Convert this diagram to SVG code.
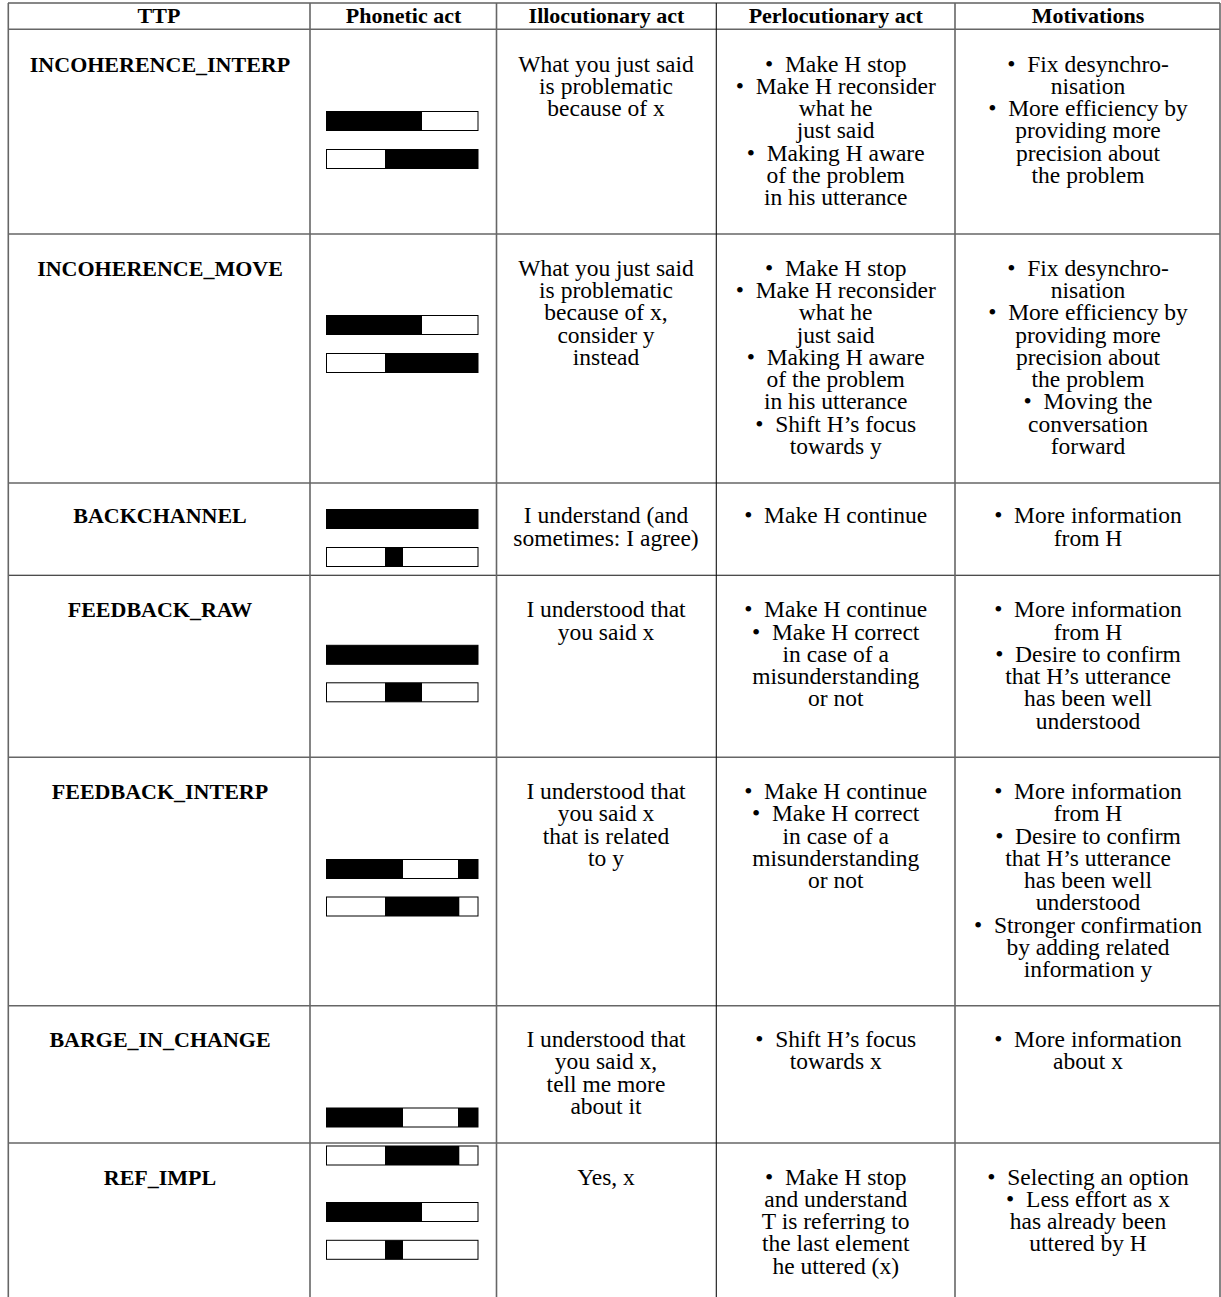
<svg xmlns="http://www.w3.org/2000/svg" width="1221" height="1297" viewBox="0 0 1221 1297">
<style>
.t{font-family:"Liberation Serif","Times New Roman",serif;font-size:23.5px;fill:#000;text-anchor:middle}
.b{font-family:"Liberation Serif","Times New Roman",serif;font-size:22px;font-weight:bold;fill:#000;text-anchor:middle}
.g{stroke:#666;stroke-width:1.6;fill:none}
.k{stroke:#111;stroke-width:1.1;fill:none}
.bar{fill:#fff;stroke:#000;stroke-width:1}
.on{fill:#000}
</style>
<rect x="0" y="0" width="1221" height="1297" fill="#fff"/>
<g id="grid">
<line class="k" x1="8" y1="3" x2="1220" y2="3"/>
<line class="g" x1="8" y1="29.3" x2="1220" y2="29.3"/>
<line class="g" x1="8" y1="234" x2="1220" y2="234"/>
<line class="g" x1="8" y1="483" x2="1220" y2="483"/>
<line class="k" x1="8" y1="575.3" x2="1220" y2="575.3"/>
<line class="g" x1="8" y1="757.3" x2="1220" y2="757.3"/>
<line class="g" x1="8" y1="1005.8" x2="1220" y2="1005.8"/>
<line class="g" x1="8" y1="1143" x2="1220" y2="1143"/>
<line class="g" x1="8.3" y1="3" x2="8.3" y2="1297"/>
<line class="g" x1="310" y1="3" x2="310" y2="1297"/>
<line class="g" x1="496.5" y1="3" x2="496.5" y2="1297"/>
<line class="k" x1="716.3" y1="3" x2="716.3" y2="1297"/>
<line class="g" x1="955" y1="3" x2="955" y2="1297"/>
<line class="g" x1="1220" y1="3" x2="1220" y2="1297"/>
</g>
<g id="header">
<text class="b" x="159" y="22.7">TTP</text>
<text class="b" x="403.5" y="22.7">Phonetic act</text>
<text class="b" x="606.5" y="22.7">Illocutionary act</text>
<text class="b" x="835.7" y="22.7">Perlocutionary act</text>
<text class="b" x="1088" y="22.7">Motivations</text>
</g>
<g id="row-incoherence-interp">
<text class="b" x="160" y="71.7">INCOHERENCE_INTERP</text>
<rect class="bar" x="326.5" y="111.5" width="151.5" height="19"/><rect class="on" x="326.5" y="111.5" width="95.5" height="19"/>
<rect class="bar" x="326.5" y="149.5" width="151.5" height="19"/><rect class="on" x="385" y="149.5" width="93" height="19"/>
<text class="t" x="606" y="71.7"><tspan x="606">What you just said</tspan><tspan x="606" dy="22.25">is problematic</tspan><tspan x="606" dy="22.25">because of x</tspan></text>
<text class="t" x="835.7" y="71.7"><tspan x="835.7">•&#8194;Make H stop</tspan><tspan x="835.7" dy="22.25">•&#8194;Make H reconsider</tspan><tspan x="835.7" dy="22.25">what he</tspan><tspan x="835.7" dy="22.25">just said</tspan><tspan x="835.7" dy="22.25">•&#8194;Making H aware</tspan><tspan x="835.7" dy="22.25">of the problem</tspan><tspan x="835.7" dy="22.25">in his utterance</tspan></text>
<text class="t" x="1088" y="71.7"><tspan x="1088">•&#8194;Fix desynchro-</tspan><tspan x="1088" dy="22.25">nisation</tspan><tspan x="1088" dy="22.25">•&#8194;More efficiency by</tspan><tspan x="1088" dy="22.25">providing more</tspan><tspan x="1088" dy="22.25">precision about</tspan><tspan x="1088" dy="22.25">the problem</tspan></text>
</g>
<g id="row-incoherence-move">
<text class="b" x="160" y="275.8">INCOHERENCE_MOVE</text>
<rect class="bar" x="326.5" y="315.5" width="151.5" height="19"/><rect class="on" x="326.5" y="315.5" width="95.5" height="19"/>
<rect class="bar" x="326.5" y="353.5" width="151.5" height="19"/><rect class="on" x="385" y="353.5" width="93" height="19"/>
<text class="t" x="606" y="275.8"><tspan x="606">What you just said</tspan><tspan x="606" dy="22.25">is problematic</tspan><tspan x="606" dy="22.25">because of x,</tspan><tspan x="606" dy="22.25">consider y</tspan><tspan x="606" dy="22.25">instead</tspan></text>
<text class="t" x="835.7" y="275.8"><tspan x="835.7">•&#8194;Make H stop</tspan><tspan x="835.7" dy="22.25">•&#8194;Make H reconsider</tspan><tspan x="835.7" dy="22.25">what he</tspan><tspan x="835.7" dy="22.25">just said</tspan><tspan x="835.7" dy="22.25">•&#8194;Making H aware</tspan><tspan x="835.7" dy="22.25">of the problem</tspan><tspan x="835.7" dy="22.25">in his utterance</tspan><tspan x="835.7" dy="22.25">•&#8194;Shift H’s focus</tspan><tspan x="835.7" dy="22.25">towards y</tspan></text>
<text class="t" x="1088" y="275.8"><tspan x="1088">•&#8194;Fix desynchro-</tspan><tspan x="1088" dy="22.25">nisation</tspan><tspan x="1088" dy="22.25">•&#8194;More efficiency by</tspan><tspan x="1088" dy="22.25">providing more</tspan><tspan x="1088" dy="22.25">precision about</tspan><tspan x="1088" dy="22.25">the problem</tspan><tspan x="1088" dy="22.25">•&#8194;Moving the</tspan><tspan x="1088" dy="22.25">conversation</tspan><tspan x="1088" dy="22.25">forward</tspan></text>
</g>
<g id="row-backchannel">
<text class="b" x="160" y="523.3">BACKCHANNEL</text>
<rect class="bar" x="326.5" y="509.5" width="151.5" height="19"/><rect class="on" x="326.5" y="509.5" width="151.5" height="19"/>
<rect class="bar" x="326.5" y="547.5" width="151.5" height="19"/><rect class="on" x="385" y="547.5" width="18" height="19"/>
<text class="t" x="606" y="523.3"><tspan x="606">I understand (and</tspan><tspan x="606" dy="22.25">sometimes: I agree)</tspan></text>
<text class="t" x="835.7" y="523.3">•&#8194;Make H continue</text>
<text class="t" x="1088" y="523.3"><tspan x="1088">•&#8194;More information</tspan><tspan x="1088" dy="22.25">from H</tspan></text>
</g>
<g id="row-feedback-raw">
<text class="b" x="160" y="617.3">FEEDBACK_RAW</text>
<rect class="bar" x="326.5" y="645.3" width="151.5" height="19"/><rect class="on" x="326.5" y="645.3" width="151.5" height="19"/>
<rect class="bar" x="326.5" y="682.8" width="151.5" height="19"/><rect class="on" x="385" y="682.8" width="37" height="19"/>
<text class="t" x="606" y="617.3"><tspan x="606">I understood that</tspan><tspan x="606" dy="22.25">you said x</tspan></text>
<text class="t" x="835.7" y="617.3"><tspan x="835.7">•&#8194;Make H continue</tspan><tspan x="835.7" dy="22.25">•&#8194;Make H correct</tspan><tspan x="835.7" dy="22.25">in case of a</tspan><tspan x="835.7" dy="22.25">misunderstanding</tspan><tspan x="835.7" dy="22.25">or not</tspan></text>
<text class="t" x="1088" y="617.3"><tspan x="1088">•&#8194;More information</tspan><tspan x="1088" dy="22.25">from H</tspan><tspan x="1088" dy="22.25">•&#8194;Desire to confirm</tspan><tspan x="1088" dy="22.25">that H’s utterance</tspan><tspan x="1088" dy="22.25">has been well</tspan><tspan x="1088" dy="22.25">understood</tspan></text>
</g>
<g id="row-feedback-interp">
<text class="b" x="160" y="799">FEEDBACK_INTERP</text>
<rect class="bar" x="326.5" y="859.5" width="151.5" height="19"/><rect class="on" x="326.5" y="859.5" width="76.5" height="19"/><rect class="on" x="458" y="859.5" width="20" height="19"/>
<rect class="bar" x="326.5" y="897" width="151.5" height="19"/><rect class="on" x="385" y="897" width="74.3" height="19"/>
<text class="t" x="606" y="799"><tspan x="606">I understood that</tspan><tspan x="606" dy="22.25">you said x</tspan><tspan x="606" dy="22.25">that is related</tspan><tspan x="606" dy="22.25">to y</tspan></text>
<text class="t" x="835.7" y="799"><tspan x="835.7">•&#8194;Make H continue</tspan><tspan x="835.7" dy="22.25">•&#8194;Make H correct</tspan><tspan x="835.7" dy="22.25">in case of a</tspan><tspan x="835.7" dy="22.25">misunderstanding</tspan><tspan x="835.7" dy="22.25">or not</tspan></text>
<text class="t" x="1088" y="799"><tspan x="1088">•&#8194;More information</tspan><tspan x="1088" dy="22.25">from H</tspan><tspan x="1088" dy="22.25">•&#8194;Desire to confirm</tspan><tspan x="1088" dy="22.25">that H’s utterance</tspan><tspan x="1088" dy="22.25">has been well</tspan><tspan x="1088" dy="22.25">understood</tspan><tspan x="1088" dy="22.25">•&#8194;Stronger confirmation</tspan><tspan x="1088" dy="22.25">by adding related</tspan><tspan x="1088" dy="22.25">information y</tspan></text>
</g>
<g id="row-barge-in-change">
<text class="b" x="160" y="1047">BARGE_IN_CHANGE</text>
<rect class="bar" x="326.5" y="1108" width="151.5" height="19"/><rect class="on" x="326.5" y="1108" width="76.5" height="19"/><rect class="on" x="458" y="1108" width="20" height="19"/>
<text class="t" x="606" y="1047"><tspan x="606">I understood that</tspan><tspan x="606" dy="22.25">you said x,</tspan><tspan x="606" dy="22.25">tell me more</tspan><tspan x="606" dy="22.25">about it</tspan></text>
<text class="t" x="835.7" y="1047"><tspan x="835.7">•&#8194;Shift H’s focus</tspan><tspan x="835.7" dy="22.25">towards x</tspan></text>
<text class="t" x="1088" y="1047"><tspan x="1088">•&#8194;More information</tspan><tspan x="1088" dy="22.25">about x</tspan></text>
</g>
<g id="row-ref-impl">
<text class="b" x="160" y="1185">REF_IMPL</text>
<rect class="bar" x="326.5" y="1146" width="151.5" height="19"/><rect class="on" x="385" y="1146" width="74.3" height="19"/>
<rect class="bar" x="326.5" y="1202.5" width="151.5" height="19"/><rect class="on" x="326.5" y="1202.5" width="95.5" height="19"/>
<rect class="bar" x="326.5" y="1240.3" width="151.5" height="19"/><rect class="on" x="385" y="1240.3" width="18" height="19"/>
<text class="t" x="606" y="1185">Yes, x</text>
<text class="t" x="835.7" y="1184.5"><tspan x="835.7">•&#8194;Make H stop</tspan><tspan x="835.7" dy="22.25">and understand</tspan><tspan x="835.7" dy="22.25">T is referring to</tspan><tspan x="835.7" dy="22.25">the last element</tspan><tspan x="835.7" dy="22.25">he uttered (x)</tspan></text>
<text class="t" x="1088" y="1184.5"><tspan x="1088">•&#8194;Selecting an option</tspan><tspan x="1088" dy="22.25">•&#8194;Less effort as x</tspan><tspan x="1088" dy="22.25">has already been</tspan><tspan x="1088" dy="22.25">uttered by H</tspan></text>
</g>
</svg>
